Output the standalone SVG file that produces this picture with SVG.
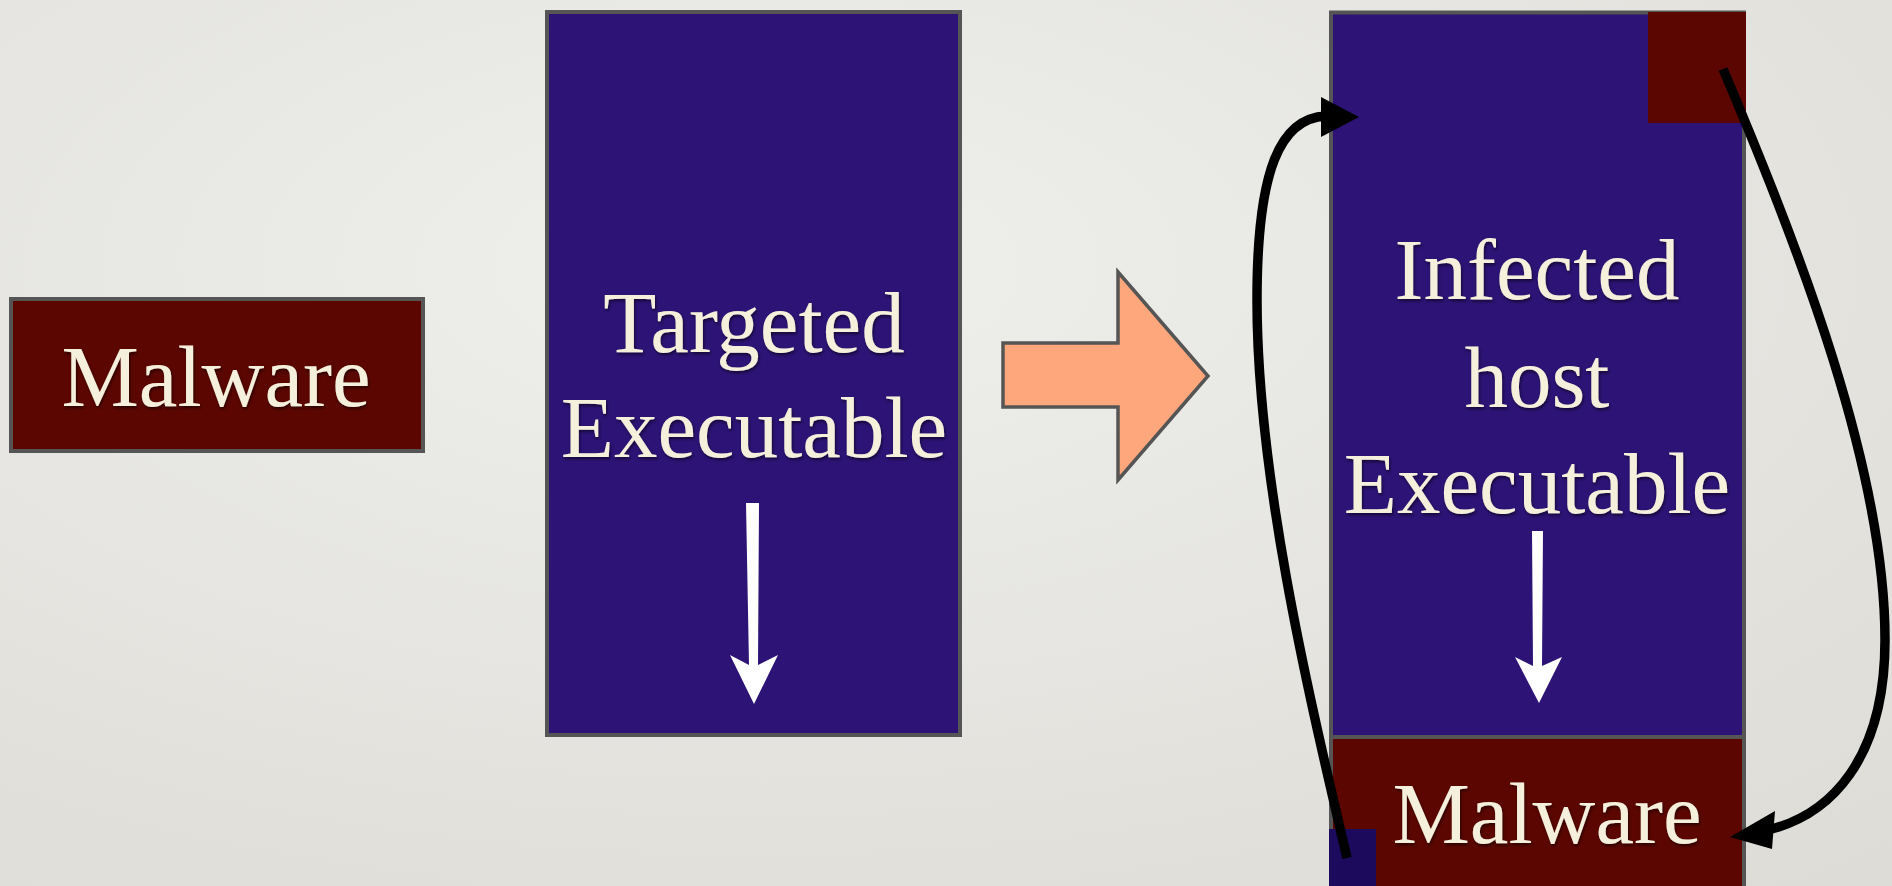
<svg xmlns="http://www.w3.org/2000/svg" width="1892" height="886" viewBox="0 0 1892 886">
  <defs>
    <radialGradient id="bg" cx="0.4" cy="0.3" r="0.9">
      <stop offset="0" stop-color="#efefec"/>
      <stop offset="1" stop-color="#dddcd7"/>
    </radialGradient>
    <filter id="txtShadow" x="-10%" y="-20%" width="120%" height="140%">
      <feDropShadow dx="1" dy="2" stdDeviation="1.5" flood-color="#000" flood-opacity="0.55"/>
    </filter>
    <style>
      .navy { fill: #2c1375; stroke: #555555; stroke-width: 4; }
      .maroon { fill: #5b0600; stroke: #555555; stroke-width: 4; }
      .label { font-family: "Liberation Serif", "Times New Roman", serif; font-size: 87px; fill: #f4f0dc; text-anchor: middle; filter: url(#txtShadow); }
      .flow { fill: #ffffff; }
      .link { fill: none; stroke: #000000; stroke-width: 9.5; stroke-linecap: butt; }
      .head { fill: #000000; }
    </style>
  </defs>

  <!-- backdrop -->
  <rect x="0" y="0" width="1892" height="886" fill="url(#bg)"/>

  <!-- stand-alone malware block -->
  <g id="malware">
    <rect class="maroon" x="11" y="299" width="412" height="152"/>
    <text class="label" x="216" y="406">Malware</text>
  </g>

  <!-- clean executable -->
  <g id="targeted-executable">
    <rect class="navy" x="547" y="12" width="413" height="723"/>
    <text class="label" x="754" y="352">Targeted</text>
    <text class="label" x="754" y="457">Executable</text>
    <polygon class="flow" points="746,503 759,503 758,665 778,655 754,704 730,655 749,665"/>
  </g>

  <!-- transformation arrow -->
  <g id="infect-arrow">
    <polygon points="1003,343 1118,343 1118,272 1208,376 1118,480 1118,407 1003,407" fill="#ffa77c" stroke="#555555" stroke-width="3.5" stroke-linejoin="miter"/>
  </g>

  <!-- infected executable with appended malware -->
  <g id="infected-executable">
    <rect class="navy" x="1331" y="12.5" width="413" height="724.5"/>
    <rect id="entry-patch" x="1648" y="12" width="98" height="111" fill="#5b0600"/>
    <text class="label" x="1537" y="299">Infected</text>
    <text class="label" x="1537" y="407">host</text>
    <text class="label" x="1537" y="513">Executable</text>
    <polygon class="flow" points="1532,531 1543,531 1542,666 1562,657 1539,703 1515,657 1533,666"/>
  </g>

  <g id="appended-malware">
    <rect class="maroon" x="1331" y="737" width="413" height="160"/>
    <rect id="return-stub" x="1329" y="829" width="47" height="60" fill="#1c0a5c"/>
    <text class="label" x="1547" y="843">Malware</text>
  </g>

  <!-- control-flow connectors -->
  <g id="connectors">
    <path class="link" d="M1723,69 C1800,250 1885,470 1885,640 C1885,760 1830,815 1768,830"/>
    <polygon class="head" points="1730,837 1775,811 1772,849"/>
    <path class="link" d="M1347,858 C1310,700 1257,480 1257,300 C1257,170 1280,118 1326,116"/>
    <polygon class="head" points="1359,117 1321,97 1321,137"/>
  </g>
</svg>
